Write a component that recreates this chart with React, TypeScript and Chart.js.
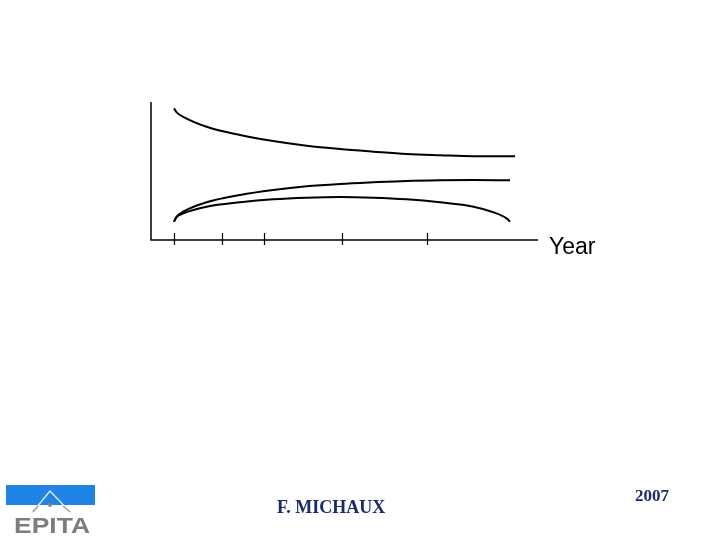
import React, { useEffect, useRef } from "react";
import { Chart, registerables } from "chart.js";

Chart.register(...registerables);

// Abstract units: x 0..100 along the time axis, y 0..100 up the vertical axis
const xTop = [5.9, 6.6, 8.3, 14.3, 22.9, 31.4, 40.0, 48.6, 57.2, 65.7, 74.3, 82.9, 93.6];
const yTop = [95.4, 92.5, 89.3, 82.1, 76.1, 71.7, 68.3, 65.9, 64.0, 62.3, 61.4, 60.7, 60.7];

const xMid = [5.9, 6.6, 8.3, 14.3, 22.9, 31.4, 40.0, 48.6, 57.2, 65.7, 74.3, 82.9, 92.3];
const yMid = [13.3, 16.9, 20.5, 27.3, 32.6, 36.2, 38.9, 40.6, 41.8, 42.8, 43.3, 43.5, 43.3];

const xLow = [5.9, 6.6, 8.3, 14.3, 22.9, 31.4, 40.0, 48.6, 57.2, 65.7, 74.3, 82.9, 88.0, 91.4, 92.3];
const yLow = [13.3, 16.7, 19.3, 24.1, 27.3, 29.5, 30.7, 31.2, 30.7, 29.5, 27.3, 24.1, 20.1, 15.7, 13.3];

const tickValues = [6, 18.3, 29.1, 49.2, 70.9];
const axisLabel = "Year";
const authorText = "F. MICHAUX";
const yearText = "2007";
const logoText = "EPITA";

const toPoints = (xs: number[], ys: number[]) => xs.map((x, i) => ({ x, y: ys[i] }));

const decorPlugin = {
  id: "decor",
  afterDraw(chart: any) {
    const { ctx, chartArea, scales } = chart;
    const { left, right, top, bottom } = chartArea;
    const xs = scales.x;
    ctx.save();
    // axes
    ctx.strokeStyle = "#000";
    ctx.lineWidth = 1.5;
    ctx.beginPath();
    ctx.moveTo(left, top);
    ctx.lineTo(left, bottom);
    ctx.lineTo(right - 2, bottom);
    ctx.stroke();
    // ticks crossing the axis
    ctx.lineWidth = 1.2;
    tickValues.forEach((v) => {
      const px = Math.round(xs.getPixelForValue(v)) + 0.5;
      ctx.beginPath();
      ctx.moveTo(px, bottom - 7);
      ctx.lineTo(px, bottom + 5);
      ctx.stroke();
    });
    // axis label
    ctx.fillStyle = "#000";
    ctx.font = '23px "Liberation Sans", Arial, sans-serif';
    ctx.textBaseline = "alphabetic";
    ctx.textAlign = "left";
    ctx.fillText(axisLabel, right + 9, bottom + 14);

    // footer texts
    ctx.fillStyle = "#1b2a6b";
    ctx.font = 'bold 18px "Liberation Serif", "Times New Roman", serif';
    ctx.fillText(authorText, 277, 513);
    ctx.font = 'bold 17px "Liberation Serif", "Times New Roman", serif';
    ctx.fillText(yearText, 635, 501);

    // logo
    ctx.fillStyle = "#1f84e6";
    ctx.fillRect(6, 485, 89, 20);
    ctx.strokeStyle = "#e8eef6";
    ctx.lineWidth = 1.3;
    ctx.beginPath();
    ctx.moveTo(31, 514);
    ctx.lineTo(50, 491);
    ctx.lineTo(72, 514);
    ctx.stroke();
    ctx.strokeStyle = "#9a9a9a";
    ctx.beginPath();
    ctx.moveTo(33, 512);
    ctx.lineTo(38, 506);
    ctx.moveTo(63, 506);
    ctx.lineTo(70, 512);
    ctx.stroke();
    ctx.fillStyle = "#8a8a8a";
    ctx.beginPath();
    ctx.arc(50, 505, 2, 0, Math.PI * 2);
    ctx.fill();
    ctx.save();
    ctx.font = 'bold 22px "Liberation Sans", Arial, sans-serif';
    const w = ctx.measureText(logoText).width;
    ctx.translate(14, 533);
    ctx.scale(76 / w, 1);
    ctx.fillStyle = "#7d7d7d";
    ctx.fillText(logoText, 0, 0);
    ctx.restore();
    ctx.restore();
  },
};

export default function App() {
  const ref = useRef<HTMLCanvasElement | null>(null);
  useEffect(() => {
    if (!ref.current) return;
    const lineStyle = {
      borderColor: "#000",
      borderWidth: 2,
      pointRadius: 0,
      fill: false,
      cubicInterpolationMode: "monotone" as const,
    };
    const chart = new Chart(ref.current, {
      type: "line",
      data: {
        datasets: [
          { label: "top", data: toPoints(xTop, yTop), ...lineStyle },
          { label: "mid", data: toPoints(xMid, yMid), ...lineStyle },
          { label: "low", data: toPoints(xLow, yLow), ...lineStyle },
        ],
      },
      options: {
        responsive: false,
        animation: false,
        devicePixelRatio: 1,
        layout: { padding: { left: 151, right: 180, top: 102, bottom: 300 } },
        plugins: { legend: { display: false }, tooltip: { enabled: false } },
        scales: {
          x: { type: "linear", min: 0, max: 100, display: false },
          y: { type: "linear", min: 0, max: 100, display: false },
        },
      },
      plugins: [decorPlugin],
    });
    return () => chart.destroy();
  }, []);
  return (
    <div style={{ position: "absolute", left: 0, top: 0, width: 720, height: 540, background: "#fff" }}>
      <canvas ref={ref} width={720} height={540} />
    </div>
  );
}
